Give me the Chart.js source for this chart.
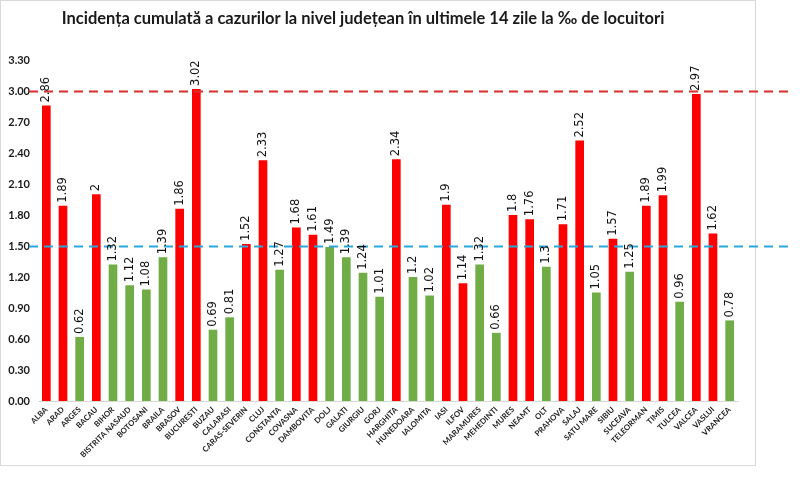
<!DOCTYPE html>
<html>
<head>
<meta charset="utf-8">
<script src="https://cdn.jsdelivr.net/npm/chart.js@4"></script>
<style>
 body { margin: 0; background: #fff; }
 #wrap { width: 800px; height: 495px; position: relative; }
</style>
</head>
<body>
<div id="wrap"><canvas id="barChart"></canvas></div>
<script>
// judete
var counties = ["ALBA", "ARAD", "ARGES", "BACAU", "BIHOR", "BISTRITA NASAUD", "BOTOSANI", "BRAILA", "BRASOV", "BUCURESTI",
 "BUZAU", "CALARASI", "CARAS-SEVERIN", "CLUJ", "CONSTANTA", "COVASNA", "DAMBOVITA", "DOLJ", "GALATI", "GIURGIU",
 "GORJ", "HARGHITA", "HUNEDOARA", "IALOMITA", "IASI", "ILFOV", "MARAMURES", "MEHEDINTI", "MURES", "NEAMT",
 "OLT", "PRAHOVA", "SALAJ", "SATU MARE", "SIBIU", "SUCEAVA", "TELEORMAN", "TIMIS", "TULCEA", "VALCEA",
 "VASLUI", "VRANCEA"];

// incidenta la mia de locuitori
var incidence = [2.86, 1.89, 0.62, 2, 1.32, 1.12, 1.08, 1.39, 1.86, 3.02,
 0.69, 0.81, 1.52, 2.33, 1.27, 1.68, 1.61, 1.49, 1.39, 1.24,
 1.01, 2.34, 1.2, 1.02, 1.9, 1.14, 1.32, 0.66, 1.8, 1.76,
 1.3, 1.71, 2.52, 1.05, 1.57, 1.25, 1.89, 1.99, 0.96, 2.97,
 1.62, 0.78];

// judetele marcate cu rosu
var redCounties = ["ALBA", "ARAD", "BACAU", "BRASOV", "BUCURESTI", "CARAS-SEVERIN", "CLUJ", "COVASNA", "DAMBOVITA",
 "HARGHITA", "IASI", "ILFOV", "MURES", "NEAMT", "PRAHOVA", "SALAJ", "SIBIU", "TELEORMAN", "TIMIS", "VALCEA", "VASLUI"];

var yTicks = [0, 0.3, 0.6, 0.9, 1.2, 1.5, 1.8, 2.1, 2.4, 2.7, 3.0, 3.3];
var thresholds = [3.0, 1.5];

var title = "Incidența cumulată a cazurilor la nivel județean în ultimele 14 zile la ‰ de locuitori";

var barColors = counties.map(function (c) {
 return redCounties.indexOf(c) >= 0 ? "#FF0000" : "#70AD47";
});

var extras = {
 id: 'extras',
 beforeDraw: function (chart) {
  var ctx = chart.ctx;
  ctx.save();
  ctx.fillStyle = "#fff";
  ctx.fillRect(0, 0, chart.width, chart.height);
  ctx.strokeStyle = "#d9d9d9";
  ctx.lineWidth = 1;
  ctx.strokeRect(0.5, 0.5, 755, 465);
  ctx.fillStyle = "#1a1a1a";
  ctx.font = "bold 16.5px Lato";
  ctx.textAlign = "center";
  ctx.textBaseline = "middle";
  ctx.fillText(title, 363, 19);
  ctx.restore();
 },
 afterDatasetsDraw: function (chart) {
  var ctx = chart.ctx;
  var y = chart.scales.y;
  ctx.save();
  // praguri
  var cols = ["#D6302B", "#2AA8DC"];
  ctx.lineWidth = 2.2;
  ctx.setLineDash([9, 6]);
  thresholds.forEach(function (t, i) {
   var py = Math.round(y.getPixelForValue(t)) + 0.5;
   ctx.strokeStyle = cols[i];
   ctx.beginPath();
   ctx.moveTo(29, py);
   ctx.lineTo(792, py);
   ctx.stroke();
  });
  ctx.setLineDash([]);
  // etichete valori
  var meta = chart.getDatasetMeta(0);
  ctx.fillStyle = "#111";
  ctx.font = "11.5px 'DejaVu Sans'";
  ctx.textAlign = "left";
  ctx.textBaseline = "middle";
  meta.data.forEach(function (bar, i) {
   ctx.save();
   ctx.translate(bar.x, bar.y - 3);
   ctx.rotate(-Math.PI / 2);
   ctx.fillText(String(incidence[i]), 0, 0);
   ctx.restore();
  });
  ctx.restore();
 }
};

var myChart = new Chart(document.getElementById("barChart"), {
 type: 'bar',
 data: {
  labels: counties,
  datasets: [{
   data: incidence,
   backgroundColor: barColors,
   categoryPercentage: 1,
   barPercentage: 0.52
  }]
 },
 options: {
  responsive: true,
  maintainAspectRatio: false,
  animation: false,
  layout: { padding: { top: 60, left: 0, right: 62, bottom: 0 } },
  plugins: { legend: { display: false }, tooltip: { enabled: false } },
  scales: {
   x: {
    grid: { display: false, drawTicks: false },
    border: { display: true, color: "#d9d9d9" },
    ticks: {
     autoSkip: false,
     maxRotation: 45,
     minRotation: 45,
     padding: 4,
     color: "#1a1a1a",
     font: { family: "Lato", size: 7.8, weight: "bold" }
    },
    afterFit: function (s) { s.height = 94; }
   },
   y: {
    min: 0,
    max: 3.3,
    grid: { display: false, drawTicks: false },
    border: { display: false },
    afterBuildTicks: function (s) {
     s.ticks = yTicks.map(function (v) { return { value: v }; });
    },
    ticks: {
     padding: 8,
     color: "#1a1a1a",
     font: { family: "Lato", size: 11, weight: "bold" },
     callback: function (v) { return v.toFixed(2); }
    },
    afterFit: function (s) { s.width = 38; }
   }
  }
 },
 plugins: [extras]
});
</script>
</body>
</html>
